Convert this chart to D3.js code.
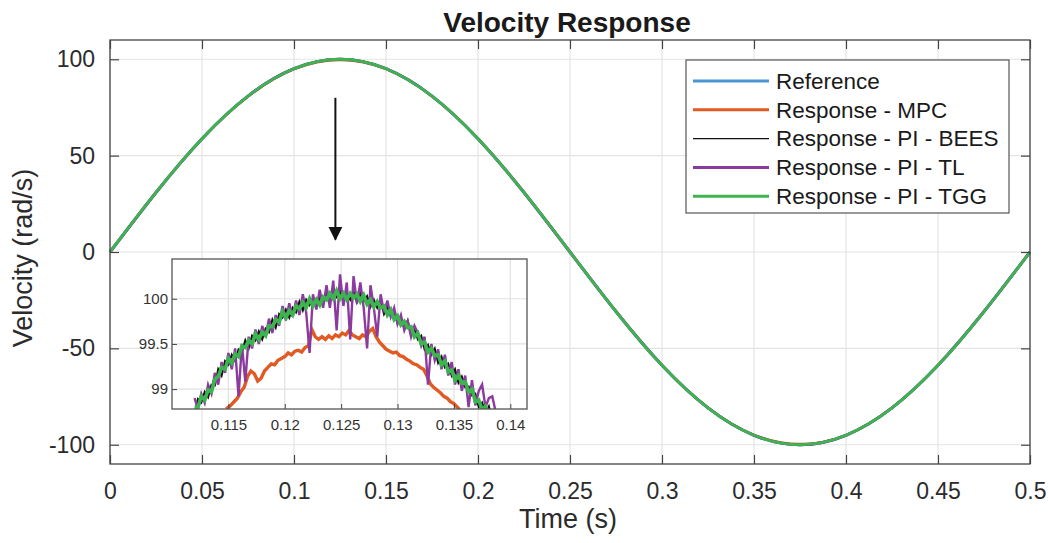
<!DOCTYPE html>
<html>
<head>
<meta charset="utf-8">
<script src="https://cdn.jsdelivr.net/npm/d3@7"></script>
<style>
body { margin: 0; background: #fff; }
svg { display: block; font-family: "Liberation Sans", Arial, sans-serif; }
</style>
</head>
<body>
<svg id="chart"></svg>
<script>
// big plot: samples (time in s, velocity in rad/s)
var mainTime = [0, 0.025, 0.05, 0.075, 0.1, 0.125, 0.15, 0.175, 0.2, 0.225, 0.25,
	0.275, 0.3, 0.325, 0.35, 0.375, 0.4, 0.425, 0.45, 0.475, 0.5];
var refVelocity = [0, 30.9, 58.8, 80.9, 95.1, 100, 95.1, 80.9, 58.8, 30.9, 0,
	-30.9, -58.8, -80.9, -95.1, -100, -95.1, -80.9, -58.8, -30.9, 0];
var mpcVelocity = [0, 30.7, 58.6, 80.6, 94.8, 99.6, 94.9, 80.8, 58.8, 31.0, 0.1,
	-30.8, -58.7, -80.7, -94.8, -99.6, -94.9, -80.8, -58.8, -31.0, -0.1];

var xTicks = [0, 0.05, 0.1, 0.15, 0.2, 0.25, 0.3, 0.35, 0.4, 0.45, 0.5];
var xTickLabels = ["0", "0.05", "0.1", "0.15", "0.2", "0.25", "0.3", "0.35", "0.4", "0.45", "0.5"];
var yTicks = [-100, -50, 0, 50, 100];
var yTickLabels = ["-100", "-50", "0", "50", "100"];

// zoomed window around the peak
var insetStart = 0.1120, insetStep = 0.0003;
var beesInset = [98.71, 98.89, 98.85, 98.97, 98.91, 99.05, 99.04, 99.22, 99.15, 99.31,
	99.27, 99.38, 99.31, 99.44, 99.41, 99.54, 99.45, 99.59, 99.54, 99.64,
	99.55, 99.67, 99.63, 99.77, 99.68, 99.83, 99.79, 99.88, 99.79, 99.90,
	99.85, 99.97, 99.87, 99.99, 99.93, 100.01, 99.91, 100.01, 99.95, 100.07,
	99.97, 100.09, 100.02, 100.09, 99.98, 100.07, 99.99, 100.09, 99.96, 100.06,
	99.97, 100.03, 99.91, 99.99, 99.90, 99.98, 99.83, 99.91, 99.81, 99.86,
	99.73, 99.79, 99.68, 99.76, 99.60, 99.67, 99.55, 99.59, 99.44, 99.49,
	99.38, 99.45, 99.29, 99.36, 99.24, 99.28, 99.15, 99.22, 99.07, 99.14,
	99.02, 99.03, 98.93, 98.95, 98.80, 98.85, 98.74, 98.81, 98.65, 98.72, 98.60];
var tlInset = [98.90, 98.78, 98.95, 98.85, 99.05, 98.95, 99.18, 99.05, 99.30, 99.18,
	99.40, 99.22, 99.45, 98.92, 99.50, 99.08, 99.58, 99.45, 99.66, 99.50,
	99.70, 99.58, 99.78, 99.62, 99.82, 99.70, 99.92, 99.76, 99.95, 99.80,
	99.98, 99.82, 100.05, 99.85, 99.40, 100.05, 99.88, 100.10, 99.90, 100.15,
	99.90, 100.20, 99.65, 100.27, 99.92, 100.18, 99.55, 100.25, 99.95, 100.18,
	99.90, 99.45, 100.15, 99.90, 99.58, 100.05, 99.85, 99.98, 99.80, 99.90,
	99.72, 99.82, 99.65, 99.75, 99.58, 99.70, 99.62, 99.48, 99.58, 99.05,
	99.50, 99.32, 99.44, 99.22, 99.38, 99.15, 99.30, 99.05, 99.22, 98.98,
	99.15, 98.80, 99.10, 98.82, 98.98, 99.05, 98.80, 98.90, 98.92, 98.75, 98.66];
var tggInset = [98.80, 98.80, 98.92, 98.88, 98.99, 98.97, 99.11, 99.14, 99.24, 99.22,
	99.34, 99.29, 99.39, 99.36, 99.48, 99.46, 99.54, 99.50, 99.61, 99.55,
	99.63, 99.59, 99.70, 99.69, 99.77, 99.74, 99.86, 99.79, 99.87, 99.82,
	99.92, 99.89, 99.96, 99.90, 100.00, 99.92, 99.99, 99.93, 100.02, 99.99,
	100.06, 100.00, 100.09, 100.00, 100.06, 99.99, 100.06, 100.01, 100.05, 99.97,
	100.04, 99.94, 99.99, 99.91, 99.97, 99.90, 99.92, 99.82, 99.88, 99.77,
	99.81, 99.71, 99.75, 99.68, 99.69, 99.58, 99.62, 99.50, 99.52, 99.41,
	99.45, 99.37, 99.38, 99.27, 99.31, 99.19, 99.21, 99.10, 99.15, 99.07,
	99.08, 98.97, 99.00, 98.86, 98.88, 98.77, 98.81, 98.73, 98.74, 98.63, 98.67];
var mpcInsetTime = [0.1148, 0.1152, 0.1155, 0.1158, 0.1161, 0.1164, 0.1167, 0.1170, 0.1173, 0.1176,
	0.1179, 0.1182, 0.1185, 0.1188, 0.1191, 0.1194, 0.1197, 0.1200, 0.1203, 0.1206,
	0.1209, 0.1212, 0.1215, 0.1218, 0.1221, 0.1224, 0.1227, 0.1230, 0.1233, 0.1236,
	0.1239, 0.1242, 0.1245, 0.1248, 0.1251, 0.1254, 0.1257, 0.1260, 0.1263, 0.1266,
	0.1269, 0.1272, 0.1275, 0.1278, 0.1281, 0.1284, 0.1287, 0.1290, 0.1293, 0.1296,
	0.1299, 0.1302, 0.1305, 0.1308, 0.1311, 0.1314, 0.1317, 0.1320, 0.1323, 0.1326,
	0.1329, 0.1332, 0.1335, 0.1338, 0.1341, 0.1344, 0.1347, 0.1350, 0.1353, 0.1356];
var mpcInset = [98.78, 98.82, 98.86, 98.90, 98.97, 99.02, 99.14, 99.20, 99.17, 99.09,
	99.12, 99.20, 99.24, 99.28, 99.27, 99.32, 99.34, 99.36, 99.40, 99.38,
	99.42, 99.43, 99.41, 99.46, 99.48, 99.66, 99.58, 99.55, 99.58, 99.55,
	99.59, 99.56, 99.60, 99.58, 99.62, 99.60, 99.65, 99.60, 99.58, 99.56,
	99.60, 99.58, 99.64, 99.67, 99.58, 99.52, 99.48, 99.44, 99.42, 99.40,
	99.41, 99.37, 99.36, 99.33, 99.31, 99.28, 99.27, 99.24, 99.22, 99.15,
	99.06, 99.02, 98.99, 98.96, 98.92, 98.90, 98.86, 98.84, 98.80, 98.76];
var insetXTicks = [0.115, 0.12, 0.125, 0.13, 0.135, 0.14];
var insetXLabels = ["0.115", "0.12", "0.125", "0.13", "0.135", "0.14"];
var insetYTicks = [99, 99.5, 100];
var insetYLabels = ["99", "99.5", "100"];

var seriesNames = ["Reference", "Response - MPC", "Response - PI - BEES", "Response - PI - TL", "Response - PI - TGG"];
var seriesColors = ["#4a97d4", "#e05a24", "#111111", "#8b3a9e", "#3cb54e"];
var seriesWidths = [3, 2.2, 1.4, 3, 2.8];

var svg = d3.select("#chart").attr("width", 1048).attr("height", 543);

var x = d3.scaleLinear().domain([0, 0.5]).range([110, 1030]);
var y = d3.scaleLinear().domain([-110, 110]).range([464, 40]);

// grid
svg.append("g").selectAll("line").data(xTicks).enter().append("line")
	.attr("x1", function(d) { return x(d); }).attr("x2", function(d) { return x(d); })
	.attr("y1", y(110)).attr("y2", y(-110))
	.attr("stroke", "#e4e4e4").attr("stroke-width", 1.2);
svg.append("g").selectAll("line").data(yTicks).enter().append("line")
	.attr("y1", function(d) { return y(d); }).attr("y2", function(d) { return y(d); })
	.attr("x1", x(0)).attr("x2", x(0.5))
	.attr("stroke", "#e4e4e4").attr("stroke-width", 1.2);

// main curves
var mainLine = function(vals) {
	return d3.line()
	.x(function(d, i) { return x(mainTime[i]); })
	.y(function(d) { return y(d); })
	.curve(d3.curveNatural)(vals);
};
var mainData = [refVelocity, mpcVelocity, refVelocity, refVelocity, refVelocity];
mainData.forEach(function(vals, i) {
	svg.append("path")
	.attr("d", mainLine(vals))
	.attr("fill", "none")
	.attr("stroke", seriesColors[i])
	.attr("stroke-width", seriesWidths[i]);
});

// axes, ticks pointing inward on all sides
function styleAxis(g, showLabels) {
	g.select(".domain").remove();
	g.selectAll(".tick line").attr("stroke", "#444").attr("stroke-width", 1.2);
	g.selectAll(".tick text")
	.attr("font-size", 23).attr("fill", "#2b2b2b")
	.style("display", showLabels ? null : "none");
}
svg.append("g").attr("transform", "translate(0," + y(-110) + ")")
	.call(d3.axisBottom(x).tickValues(xTicks).tickSize(-9).tickPadding(19)
		.tickFormat(function(d, i) { return xTickLabels[i]; }))
	.call(styleAxis, true);
svg.append("g").attr("transform", "translate(0," + y(110) + ")")
	.call(d3.axisTop(x).tickValues(xTicks).tickSize(-9))
	.call(styleAxis, false);
svg.append("g").attr("transform", "translate(" + x(0) + ",0)")
	.call(d3.axisLeft(y).tickValues(yTicks).tickSize(-9).tickPadding(15)
		.tickFormat(function(d, i) { return yTickLabels[i]; }))
	.call(styleAxis, true);
svg.append("g").attr("transform", "translate(" + x(0.5) + ",0)")
	.call(d3.axisRight(y).tickValues(yTicks).tickSize(-9))
	.call(styleAxis, false);
svg.append("rect")
	.attr("x", x(0)).attr("y", y(110))
	.attr("width", x(0.5) - x(0)).attr("height", y(-110) - y(110))
	.attr("fill", "none").attr("stroke", "#444").attr("stroke-width", 1.3);

// titles
svg.append("text").attr("x", 567).attr("y", 32)
	.attr("text-anchor", "middle").attr("font-size", 28).attr("font-weight", "bold")
	.attr("fill", "#1a1a1a").text("Velocity Response");
svg.append("text").attr("x", 568).attr("y", 528)
	.attr("text-anchor", "middle").attr("font-size", 27).attr("fill", "#2b2b2b")
	.text("Time (s)");
svg.append("text").attr("transform", "translate(32,258) rotate(-90)")
	.attr("text-anchor", "middle").attr("font-size", 27).attr("fill", "#2b2b2b")
	.text("Velocity (rad/s)");

// arrow pointing at the zoomed region
svg.append("defs").append("marker")
	.attr("id", "head").attr("viewBox", "0 0 10 10")
	.attr("refX", 9).attr("refY", 5)
	.attr("markerWidth", 7).attr("markerHeight", 8)
	.attr("orient", "auto")
	.append("path").attr("d", "M0,0L10,5L0,10Z").attr("fill", "#111");
svg.append("line")
	.attr("x1", x(0.1225)).attr("x2", x(0.1225))
	.attr("y1", y(80)).attr("y2", y(6.5))
	.attr("stroke", "#111").attr("stroke-width", 2)
	.attr("marker-end", "url(#head)");

// inset
var xi = d3.scaleLinear().domain([0.1100, 0.14148]).range([172, 527]);
var yi = d3.scaleLinear().domain([98.78, 100.44]).range([409, 259]);
var inset = svg.append("g");
inset.append("rect")
	.attr("x", 172).attr("y", 259).attr("width", 355).attr("height", 150)
	.attr("fill", "#fff");
inset.append("clipPath").attr("id", "insetClip").append("rect")
	.attr("x", 172).attr("y", 259).attr("width", 355).attr("height", 150);
inset.append("g").selectAll("line").data(insetXTicks).enter().append("line")
	.attr("x1", function(d) { return xi(d); }).attr("x2", function(d) { return xi(d); })
	.attr("y1", 259).attr("y2", 409)
	.attr("stroke", "#e0e0e0").attr("stroke-width", 1.2);
inset.append("g").selectAll("line").data(insetYTicks).enter().append("line")
	.attr("y1", function(d) { return yi(d); }).attr("y2", function(d) { return yi(d); })
	.attr("x1", 172).attr("x2", 527)
	.attr("stroke", "#e0e0e0").attr("stroke-width", 1.2);

var insetLine = d3.line()
	.x(function(d, i) { return xi(insetStart + insetStep * i); })
	.y(function(d) { return yi(d); });
var curves = inset.append("g").attr("clip-path", "url(#insetClip)");
curves.append("path")
	.attr("d", d3.line()
		.x(function(d, i) { return xi(mpcInsetTime[i]); })
		.y(function(d) { return yi(d); })(mpcInset))
	.attr("fill", "none").attr("stroke", seriesColors[1]).attr("stroke-width", 3.4);
curves.append("path").attr("d", insetLine(beesInset))
	.attr("fill", "none").attr("stroke", seriesColors[2]).attr("stroke-width", 2);
curves.append("path").attr("d", insetLine(tlInset))
	.attr("fill", "none").attr("stroke", seriesColors[3]).attr("stroke-width", 2.4);
curves.append("path").attr("d", insetLine(tggInset))
	.attr("fill", "none").attr("stroke", seriesColors[4]).attr("stroke-width", 3.6);

function styleInsetAxis(g) {
	g.select(".domain").remove();
	g.selectAll(".tick line").attr("stroke", "#444");
	g.selectAll(".tick text").attr("font-size", 15).attr("fill", "#333");
}
inset.append("g").attr("transform", "translate(0,409)")
	.call(d3.axisBottom(xi).tickValues(insetXTicks).tickSize(-5).tickPadding(10)
		.tickFormat(function(d, i) { return insetXLabels[i]; }))
	.call(styleInsetAxis);
inset.append("g").attr("transform", "translate(172,0)")
	.call(d3.axisLeft(yi).tickValues(insetYTicks).tickSize(-5).tickPadding(4)
		.tickFormat(function(d, i) { return insetYLabels[i]; }))
	.call(styleInsetAxis);
inset.append("rect")
	.attr("x", 172).attr("y", 259).attr("width", 355).attr("height", 150)
	.attr("fill", "none").attr("stroke", "#555").attr("stroke-width", 1.3);

// legend
var legend = svg.append("g").attr("transform", "translate(686,60)");
legend.append("rect")
	.attr("width", 323).attr("height", 153)
	.attr("fill", "#fff").attr("stroke", "#555").attr("stroke-width", 1.2);
var item = legend.selectAll("g.item").data(seriesNames).enter().append("g")
	.attr("class", "item")
	.attr("transform", function(d, i) { return "translate(0," + (21 + i * 28.8) + ")"; });
item.append("line")
	.attr("x1", 7).attr("x2", 83)
	.attr("stroke", function(d, i) { return seriesColors[i]; })
	.attr("stroke-width", function(d, i) { return i == 2 ? 1.4 : 3; });
item.append("text")
	.attr("x", 90).attr("dy", "0.35em")
	.attr("font-size", 22.5).attr("fill", "#1a1a1a")
	.text(function(d) { return d; });
</script>
</body>
</html>
